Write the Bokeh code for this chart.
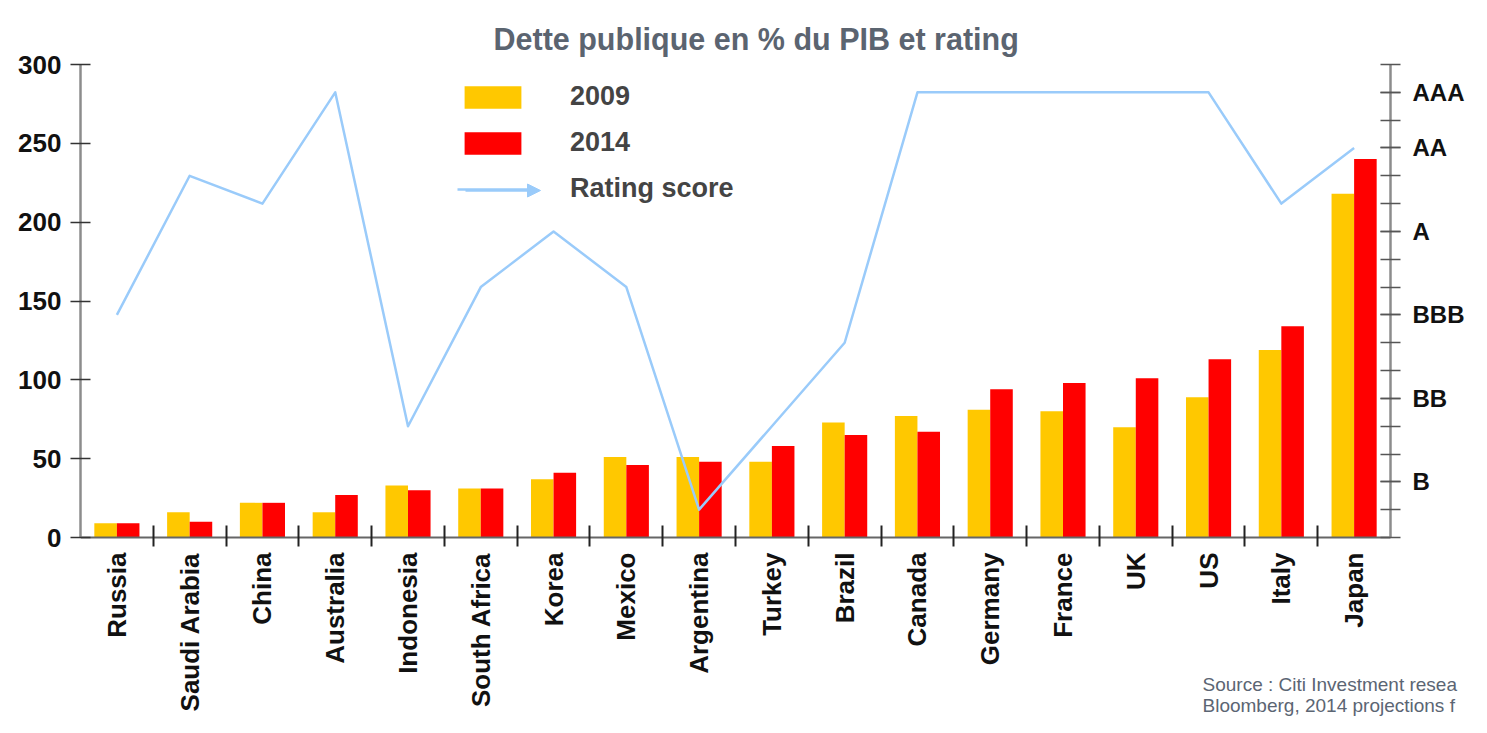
from math import pi
from bokeh.plotting import figure
from bokeh.models import (Range1d, LinearAxis, FixedTicker, Legend, LegendItem,
                          Arrow, NormalHead, Label, ColumnDataSource)
from bokeh.transform import dodge
from bokeh.embed import file_html
from bokeh.resources import INLINE

# ---------------- data ----------------
countries = ["Russia", "Saudi Arabia", "China", "Australia", "Indonesia", "South Africa",
             "Korea", "Mexico", "Argentina", "Turkey", "Brazil", "Canada", "Germany",
             "France", "UK", "US", "Italy", "Japan"]
debt_2009 = [9, 16, 22, 16, 33, 31, 37, 51, 51, 48, 73, 77, 81, 80, 70, 89, 119, 218]
debt_2014 = [9, 10, 22, 27, 30, 31, 41, 46, 48, 58, 65, 67, 94, 98, 101, 113, 134, 240]
# rating score: B-=1 ... AAA=16
rating_score = [8, 13, 12, 16, 4, 9, 11, 9, 1, 4, 7, 16, 16, 16, 16, 16, 12, 14]
debt_ticks = [0, 50, 100, 150, 200, 250, 300]
rating_ticks = [2, 5, 8, 11, 14, 16]
rating_tick_labels = ["B", "BB", "BBB", "A", "AA", "AAA"]
rating_minor_ticks = list(range(0, 18))
debt_max = 300
rating_max = 17

title_text = "Dette publique en % du PIB et rating"
source_lines = ["Source : Citi Investment resea", "Bloomberg, 2014 projections f"]

# ---------------- layout (pixels) ----------------
W, H = 1471, 717
LEFT = 80            # frame left / left axis
AX_RIGHT = 1390      # right axis position
Y_ZERO = 537         # pixel row of value 0
Y_TOP = 64           # pixel row of axis top

GOLD = "#FFC800"
RED = "#FF0000"
BLUE = "#9ACBFA"
FONT = "Liberation Sans"

n = len(countries)
idx = list(range(n))
cat_px = (AX_RIGHT - LEFT) / n
frame_w = W - LEFT
x_end = -0.5 + frame_w / cat_px

k_debt = (Y_ZERO - Y_TOP) / debt_max
k_rat = (Y_ZERO - Y_TOP) / rating_max
y_range = Range1d(-(H - Y_ZERO) / k_debt, debt_max + Y_TOP / k_debt)
r_range = Range1d(-(H - Y_ZERO) / k_rat, rating_max + Y_TOP / k_rat)

src = ColumnDataSource(dict(x=idx, country=countries, d09=debt_2009, d14=debt_2014,
                            rating=rating_score))

p = figure(width=W, height=H, output_backend="svg", toolbar_location=None,
           x_range=Range1d(-0.5, x_end), y_range=y_range,
           min_border_left=LEFT, min_border_right=0, min_border_top=0,
           min_border_bottom=0)
p.extra_y_ranges = {"rating": r_range}
p.outline_line_color = None
p.xgrid.visible = False
p.ygrid.visible = False
p.background_fill_color = "white"
p.border_fill_color = "white"

r09 = p.vbar(x=dodge("x", -0.155, range=p.x_range), top="d09", width=0.31, bottom=0,
             source=src, fill_color=GOLD, line_color=None)
r14 = p.vbar(x=dodge("x", 0.155, range=p.x_range), top="d14", width=0.31, bottom=0,
             source=src, fill_color=RED, line_color=None)
rl = p.line(x="x", y="rating", source=src, y_range_name="rating",
            line_color=BLUE, line_width=2.5, line_join="round")

# left axis
ya = p.yaxis[0]
ya.ticker = FixedTicker(ticks=debt_ticks)
ya.bounds = (0, debt_max)
ya.axis_line_color = "#8c8c8c"
ya.axis_line_width = 2.5
ya.major_tick_in = 10
ya.major_tick_out = 10
ya.major_tick_line_color = "#333333"
ya.major_tick_line_width = 1.5
ya.minor_tick_line_color = None
ya.major_label_standoff = 9
ya.major_label_text_font = FONT
ya.major_label_text_font_style = "bold"
ya.major_label_text_font_size = "26px"
ya.major_label_text_color = "#111111"

# bottom axis (drawn at value 0)
xa = p.xaxis[0]
xa.fixed_location = 0
xa.bounds = (-0.5, n - 0.5)
xa.ticker = FixedTicker(ticks=idx, minor_ticks=[i + 0.5 for i in idx[:-1]])
xa.major_label_overrides = {i: c for i, c in zip(idx, countries)}
xa.major_label_orientation = pi / 2
xa.major_tick_in = 0
xa.major_tick_out = 0
xa.minor_tick_in = 12
xa.minor_tick_out = 9
xa.minor_tick_line_color = "#222222"
xa.minor_tick_line_width = 2
xa.axis_line_color = "#666666"
xa.axis_line_width = 2
xa.major_label_standoff = 6
xa.major_label_text_font = FONT
xa.major_label_text_font_style = "bold"
xa.major_label_text_font_size = "26px"
xa.major_label_text_color = "#111111"

# right axis (rating)
ra = LinearAxis(y_range_name="rating", fixed_location=n - 0.5,
                ticker=FixedTicker(ticks=rating_ticks, minor_ticks=rating_minor_ticks),
                major_label_overrides={t: l for t, l in zip(rating_ticks, rating_tick_labels)})
ra.bounds = (0, rating_max)
ra.axis_line_color = "#8c8c8c"
ra.axis_line_width = 2.5
ra.major_tick_in = 10
ra.major_tick_out = 10
ra.minor_tick_in = 10
ra.minor_tick_out = 10
ra.major_tick_line_color = "#555555"
ra.minor_tick_line_color = "#555555"
ra.major_tick_line_width = 1.5
ra.minor_tick_line_width = 1.5
ra.major_label_standoff = 12
ra.major_label_text_font = FONT
ra.major_label_text_font_style = "bold"
ra.major_label_text_font_size = "24px"
ra.major_label_text_color = "#111111"
p.add_layout(ra, "right")

# title
p.add_layout(Label(x=493 - LEFT, y=H - 38, x_units="screen", y_units="screen",
                   text=title_text, text_font=FONT, text_font_size="30.5px",
                   text_font_style="bold", text_color="#5b6470",
                   text_baseline="alphabetic"))

# legend
legend = Legend(items=[LegendItem(label="2009", renderers=[r09]),
                       LegendItem(label="2014", renderers=[r14]),
                       LegendItem(label="Rating score", renderers=[rl])],
                location=(457 - LEFT, H - 204), glyph_width=71, glyph_height=28,
                label_standoff=42, spacing=15, padding=0, margin=0,
                border_line_alpha=0, background_fill_alpha=0,
                label_text_font=FONT, label_text_font_style="bold",
                label_text_font_size="27px", label_height=28)
p.add_layout(legend)

p.add_layout(Arrow(x_start=465 - LEFT, y_start=H - 190, x_end=540 - LEFT, y_end=H - 190,
                   start_units="screen", end_units="screen",
                   line_color=BLUE, line_width=2.5,
                   end=NormalHead(size=13, fill_color=BLUE, line_color=BLUE)))

# source note
for k, line in enumerate(source_lines):
    p.add_layout(Label(x=1202 - LEFT, y=H - 684 - 21 * k, x_units="screen", y_units="screen",
                       text=line, text_font=FONT, text_font_size="19px",
                       text_color="#5b6573", text_baseline="alphabetic"))

open("out.html", "w").write(file_html(p, INLINE))
